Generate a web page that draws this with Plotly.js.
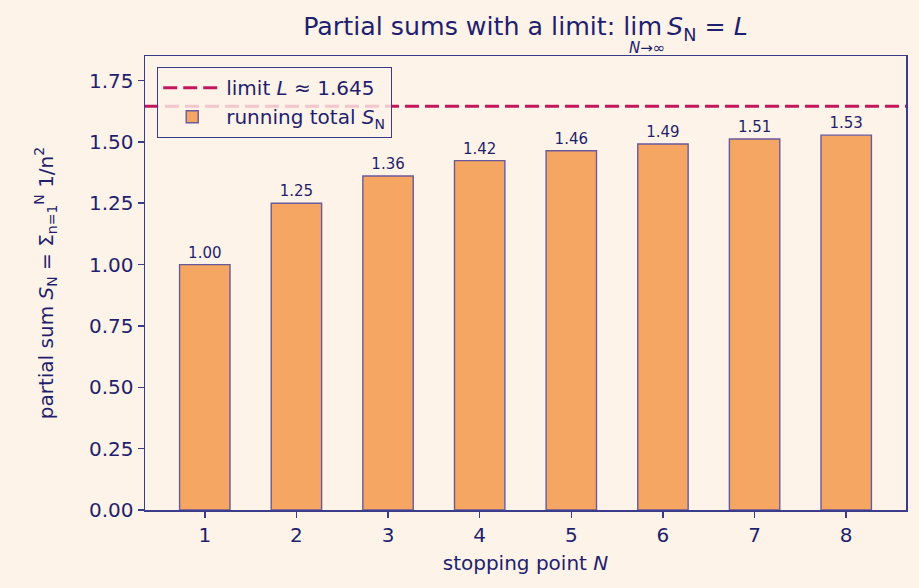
<!DOCTYPE html>
<html>
<head>
<meta charset="utf-8">
<script src="https://cdn.plot.ly/plotly-3.0.1.min.js"></script>
<style>html,body{margin:0;padding:0;background:#fef3e9;}</style>
</head>
<body>
<div id="chart" style="width:919px;height:588px;"></div>
<script>
const stoppingPoints = [1, 2, 3, 4, 5, 6, 7, 8];
const partialSums = [1.00, 1.25, 1.3611, 1.4236, 1.4636, 1.4914, 1.5118, 1.5274];
const limitValue = 1.645;
const xRange = [0.3475, 8.6525];
const yRange = [0, 1.85];
const yTicks = [0, 0.25, 0.5, 0.75, 1, 1.25, 1.5, 1.75];

const navy = '#1f1f6e';
const spine = '#3b3b8c';

const traces = [
  {
    type: 'scatter', mode: 'lines',
    x: xRange, y: [limitValue, limitValue],
    name: 'limit <i>L</i> ≈ 1.645',
    line: {color: '#c2185b', width: 3, dash: '14px,6px'},
    hoverinfo: 'skip'
  },
  {
    type: 'bar',
    x: stoppingPoints, y: partialSums,
    width: 0.55,
    name: 'running total <i>S</i><sub>N</sub>',
    marker: {color: '#f4a662', line: {color: '#6a5a9c', width: 1.4}},
    texttemplate: '%{y:.2f}', textposition: 'outside',
    textfont: {size: 15, color: navy},
    cliponaxis: false
  }
];

const layout = {
  width: 919, height: 588,
  paper_bgcolor: '#fef3e9', plot_bgcolor: '#fef3e9',
  font: {family: 'DejaVu Sans', color: navy, size: 20},
  margin: {l: 145, r: 13, t: 56, b: 78},
  title: {text: 'Partial sums with a limit: lim\u2009<i>S</i><sub>N</sub> = <i>L</i>', font: {size: 25.3, color: navy}, xref: 'paper', x: 0.5, xanchor: 'center', y: 0.955, yanchor: 'middle'},
  annotations: [
    {text: '<i>N</i>→∞', xref: 'paper', yref: 'paper', x: 0.66, y: 1.018, xanchor: 'center', yanchor: 'middle', showarrow: false, font: {size: 15, color: navy}}
  ],
  xaxis: {
    range: xRange, tickvals: stoppingPoints, ticktext: stoppingPoints.map(String),
    showgrid: false, zeroline: false, showline: true, mirror: true, linecolor: spine, linewidth: 1.5,
    ticks: 'outside', ticklen: 6, tickwidth: 1.5, tickcolor: spine, tickfont: {size: 20, color: navy},
    title: {text: 'stopping point <i>N</i>', font: {size: 20, color: navy}, standoff: 10}
  },
  yaxis: {
    range: yRange, tickvals: yTicks, tickformat: '.2f',
    showgrid: false, zeroline: false, showline: true, mirror: true, linecolor: spine, linewidth: 1.5,
    ticks: 'outside', ticklen: 6, tickwidth: 1.5, tickcolor: spine, tickfont: {size: 20, color: navy},
    title: {text: 'partial sum <i>S</i><sub>N</sub> = Σ<sub>n=1</sub><sup>N</sup> 1/n<sup>2</sup>', font: {size: 20, color: navy}, standoff: 30}
  },
  legend: {
    x: 0.0158, y: 0.9758, xanchor: 'left', yanchor: 'top',
    bgcolor: 'rgba(254,243,233,0.8)', bordercolor: spine, borderwidth: 1.2,
    font: {size: 20, color: navy}, traceorder: 'normal', tracegroupgap: 0,
    itemwidth: 58
  },
  showlegend: true,
  bargap: 0
};

Plotly.newPlot('chart', traces, layout, {displayModeBar: false, staticPlot: true});
</script>
</body>
</html>
